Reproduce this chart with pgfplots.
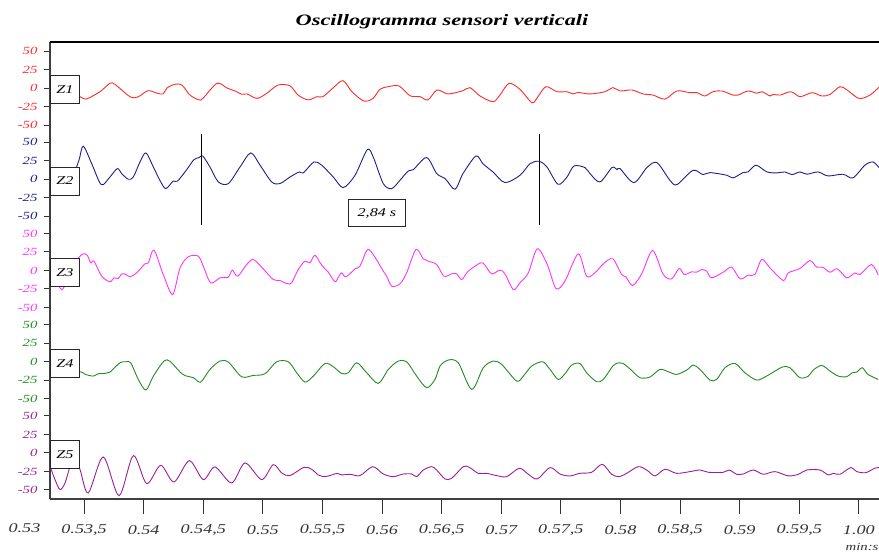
\documentclass[border=0pt]{standalone}
\usepackage{fontspec}
\setmainfont{Liberation Serif}
\usepackage{graphicx}
\usepackage{pgfplots}
\usepackage{pgfplotstable}
\pgfplotsset{compat=1.18}
\definecolor{zA}{HTML}{FF2A2A}
\definecolor{zB}{HTML}{1E1E8C}
\definecolor{zC}{HTML}{FF33FF}
\definecolor{zD}{HTML}{228B22}
\definecolor{zE}{HTML}{9A1F9A}
\newcommand{\hs}[1]{\scalebox{1.35}[1]{#1}}
\newcommand{\yl}[2]{\textcolor{#1}{\hs{#2}}}

\pgfplotstableread{
t a
0.214 1
0.340 -5
0.466 -11.7
0.516 -15
0.633 -5
0.717 6.3
0.759 5
0.885 -11.7
0.952 -12
1.036 -3.6
1.112 -7
1.162 -8
1.195 0
1.263 5
1.321 4
1.388 -9.5
1.464 -16
1.497 -14
1.615 6.3
1.699 0
1.766 -4
1.825 -8.5
1.867 -8
1.951 -14
2.034 -7
2.127 4
2.227 3
2.295 -9.5
2.379 -16
2.454 -11.7
2.504 -11.7
2.588 0
2.672 10
2.747 -5
2.848 -17.6
2.924 -14
2.982 -1.8
3.049 1.8
3.142 2.7
3.234 -10.4
3.318 -11.7
3.385 -16
3.461 -2.7
3.553 -8
3.679 -3.6
3.738 0.5
3.822 -10.8
3.931 -18.5
3.989 -9.5
4.065 6.3
4.157 -1.8
4.258 -19.8
4.308 -11.7
4.375 1.8
4.468 -5
4.552 -5
4.602 -8
4.644 -6
4.744 -8
4.870 -5
4.938 0.5
4.996 -4
5.097 -2.7
5.189 -8
5.273 -9.5
5.373 -15
5.474 -4
5.583 -6.3
5.642 -6.3
5.709 -10.8
5.776 -5
5.852 -4
5.944 -9.5
5.986 -9.5
6.070 -4
6.145 -7
6.188 -5
6.255 -10.8
6.280 -8.6
6.339 -9.5
6.431 -5
6.507 -11.7
6.607 -6.3
6.691 -10.8
6.758 -8.6
6.842 1.8
6.901 -2.7
6.985 -13
7.027 -14
7.094 -9.5
7.169 1
}\zone

\pgfplotstableread{
t a
0.231 -5
0.340 -19
0.398 0
0.457 25.7
0.493 44.6
0.564 21
0.628 -3.6
0.661 -7.2
0.717 3
0.779 14.4
0.815 7.7
0.871 0
0.913 3
0.969 23.4
1.019 35.6
1.081 16.6
1.143 -3.6
1.187 -12.6
1.248 -2.3
1.282 -2.7
1.361 13
1.422 26.6
1.466 29.3
1.495 31.5
1.556 16.6
1.626 -3.6
1.710 -5.9
1.808 16.6
1.898 35.6
1.976 19
2.074 -3.6
2.143 -5.9
2.227 3
2.305 9.9
2.339 8.6
2.429 23.4
2.493 19
2.591 3
2.674 -11.3
2.773 5.4
2.876 40
2.926 30
3.010 -5.9
3.081 -12.6
3.150 -1.4
3.220 11.3
3.262 13
3.374 29.3
3.458 7.7
3.528 1
3.612 -13.5
3.679 7.7
3.788 31.5
3.846 21
3.930 9.9
4.031 -4.5
4.157 5.4
4.241 21
4.316 24.3
4.383 16.6
4.476 -6.8
4.551 3
4.610 18
4.702 15.8
4.744 7.7
4.828 -3.6
4.929 15.8
4.971 13
4.996 14.4
5.113 -4.5
5.222 15.8
5.306 22.5
5.415 -1.4
5.474 -7.2
5.608 12
5.692 6.3
5.751 9
5.893 5.4
5.944 1.8
6.028 9
6.070 9.9
6.137 19
6.229 9.9
6.313 8.6
6.380 9.9
6.439 6.3
6.506 9.9
6.564 6.8
6.657 9.9
6.741 4.5
6.867 6.8
6.950 1.8
7.051 19
7.118 23.4
7.169 15.8
}\ztwo

\pgfplotstableread{
t a
0.214 5.9
0.312 -25.7
0.382 0
0.451 17
0.493 22.5
0.527 20.7
0.555 10.4
0.583 12.6
0.648 -7.7
0.717 -15.3
0.751 -9.9
0.787 -10.8
0.815 -4.5
0.843 -4.5
0.885 -8.6
0.941 -3.2
1.011 9
1.039 10.4
1.086 27.5
1.164 -5.4
1.243 -32.4
1.305 3.6
1.374 18.5
1.458 19.4
1.500 5.9
1.562 -16.7
1.640 -9.9
1.710 -9
1.743 0.5
1.789 -7.7
1.864 8.1
1.919 14.9
1.990 4.5
2.087 -12.2
2.143 -13.5
2.200 -17.6
2.241 -16.7
2.297 1.4
2.353 12.6
2.395 10.4
2.437 20.7
2.493 7.2
2.549 -2.3
2.605 -15.3
2.638 -7.7
2.661 -3.2
2.697 -8.6
2.773 2.3
2.815 5.9
2.879 28.4
2.940 18
3.010 -0.9
3.039 -7.7
3.081 -21.2
3.150 -18
3.206 -3.2
3.284 28.4
3.346 15.8
3.388 12.6
3.458 8.1
3.519 -7.7
3.584 -4.5
3.626 -4.5
3.668 -12.2
3.723 -0.9
3.827 10.4
3.863 7.2
3.919 -4.5
3.989 0.5
4.031 -4.5
4.101 -25.7
4.157 -16.7
4.227 -3.2
4.302 29.3
4.386 8.1
4.459 -24.3
4.534 -14.4
4.646 22.5
4.716 -7.7
4.786 -3.2
4.856 9
4.935 15.8
5.010 -5.4
5.046 -8.6
5.102 -20.3
5.178 -4.5
5.270 27
5.359 -5.4
5.429 -11.3
5.493 2.7
5.535 -5.4
5.597 -1.8
5.639 -2.3
5.681 1.4
5.723 -0.9
5.765 -9.9
5.862 -2.3
5.933 4.5
6.003 -11.3
6.072 -6.3
6.128 -5.4
6.185 14.9
6.254 3.6
6.366 -13.5
6.408 -3.2
6.506 2.7
6.590 13.5
6.646 4.5
6.696 4.5
6.758 -2.3
6.819 2.3
6.898 -9.9
6.967 -3.2
7.009 -5.4
7.106 8.1
7.163 -6.3
}\zthree

\pgfplotstableread{
t a
0.214 -5.9
0.466 -13.5
0.508 -17
0.577 -19.4
0.619 -16.2
0.675 -15.8
0.717 -14
0.801 -1.4
0.851 0
0.891 -1.4
0.955 -23.9
1.019 -38.3
1.081 -19.4
1.170 0.9
1.221 0.5
1.327 -17
1.416 -21.6
1.478 -27.5
1.556 -10.4
1.640 0.9
1.710 -0.5
1.822 -20.3
1.919 -18.5
2.018 -16.2
2.116 0
2.213 0
2.284 -14.9
2.353 -27.5
2.423 -19.4
2.521 -2.3
2.591 -6.8
2.661 -15.8
2.717 -14.9
2.787 -1.4
2.871 -14.9
2.968 -29.3
3.052 -10.4
3.136 0.9
3.206 0
3.290 -19.4
3.374 -35.1
3.444 -23.9
3.486 -5.9
3.555 2.3
3.639 -1.4
3.752 -37.4
3.849 -8.1
3.933 0.9
4.003 -3.6
4.129 -26.1
4.185 -19.4
4.255 -5.9
4.347 0
4.409 -10.4
4.478 -23.9
4.534 -16.2
4.591 -4.5
4.660 -2.3
4.716 -14.9
4.800 -27
4.856 -23.9
4.940 -5
4.990 -1.4
5.023 -2.3
5.094 -11.7
5.164 -21.6
5.247 -20.7
5.331 -10.4
5.401 -13.5
5.471 -17.1
5.555 -11.3
5.611 -4.5
5.667 -10.4
5.751 -24.8
5.807 -23.9
5.877 -8.1
5.961 -2.3
6.044 -14.9
6.143 -24.8
6.226 -19.4
6.296 -12.6
6.366 -6.8
6.422 -8.1
6.506 -21.6
6.576 -19.4
6.617 -11.3
6.688 -5
6.758 -12.6
6.827 -19.4
6.898 -20.3
6.944 -14.9
6.982 -14
7.029 -8.1
7.076 -17.1
7.163 -23.9
}\zfour

\pgfplotstableread{
t a
0.214 -18
0.256 -36
0.298 -49.5
0.340 -40.5
0.382 -18
0.415 -5
0.466 -22.5
0.535 -54
0.661 -5.4
0.793 -57.7
0.913 -3.6
1.025 -41.4
1.143 -16.7
1.254 -39.2
1.383 -10.4
1.500 -36
1.598 -18.9
1.738 -40.5
1.850 -13.5
1.990 -36
2.087 -15.8
2.158 -27
2.227 -30.6
2.345 -19.4
2.409 -22
2.465 -29.7
2.521 -32
2.577 -29.7
2.624 -27.5
2.661 -29.7
2.731 -28.8
2.815 -30.6
2.921 -18.5
3.010 -28.4
3.094 -32
3.178 -28.4
3.248 -28.4
3.290 -32
3.346 -23
3.416 -18.5
3.458 -23
3.528 -35.1
3.584 -34.2
3.681 -18.5
3.732 -19.4
3.807 -27.5
3.877 -27.5
3.961 -30.6
4.045 -32
4.151 -20.7
4.227 -28.8
4.302 -35.1
4.409 -19.8
4.492 -28.4
4.576 -31.1
4.660 -27.5
4.758 -26.1
4.847 -15.3
4.926 -28.8
4.990 -32
5.052 -27.5
5.149 -18.5
5.220 -23
5.289 -31
5.373 -22
5.471 -27.5
5.583 -25.2
5.667 -23
5.737 -26.1
5.862 -26.1
5.913 -23
5.975 -28.8
6.030 -28.4
6.114 -23
6.198 -28.8
6.296 -25.2
6.408 -31
6.492 -28.8
6.562 -23
6.673 -23
6.743 -29.7
6.785 -27.5
6.842 -28.8
6.931 -19.8
6.982 -25.2
7.059 -26.6
7.131 -20.7
7.169 -19.8
}\zfive

\begin{document}
\begin{tikzpicture}
\begin{axis}[
  at={(0,0)}, anchor=south west,
  scale only axis, width=829bp, height=457bp,
  xmin=0.214, xmax=7.169, ymin=-555.4, ymax=62.2,
  axis x line=bottom, axis y line=left,
  axis line style={-, line width=1.2bp, color=black!75},
  tick align=outside, major tick length=6bp,
  tick style={line width=1bp, color=black!80},
  xtick={0.5,1,1.5,2,2.5,3,3.5,4,4.5,5,5.5,6,6.5,7},
  xticklabels={\hs{0.53,5},\hs{0.54},\hs{0.54,5},\hs{0.55},\hs{0.55,5},\hs{0.56},\hs{0.56,5},\hs{0.57},\hs{0.57,5},\hs{0.58},\hs{0.58,5},\hs{0.59},\hs{0.59,5},\hs{1.00}},
  xtick style={draw=none},
  xticklabel style={font=\itshape\fontsize{13.5}{15}\selectfont, color=black!80, anchor=center, yshift=-25bp},
  ytick={50,25,0,-25,-50,-73.3,-98.3,-123.3,-148.3,-173.3,-196.6,-221.6,-246.6,-271.6,-296.6,-319.9,-344.9,-369.9,-394.9,-419.9,-443.2,-468.2,-493.2,-518.2,-543.2},
  yticklabels={\yl{zA}{50},\yl{zA}{25},\yl{zA}{0},\yl{zA}{-25},\yl{zA}{-50},
               \yl{zB}{50},\yl{zB}{25},\yl{zB}{0},\yl{zB}{-25},\yl{zB}{-50},
               \yl{zC}{50},\yl{zC}{25},\yl{zC}{0},\yl{zC}{-25},\yl{zC}{-50},
               \yl{zD}{50},\yl{zD}{25},\yl{zD}{0},\yl{zD}{-25},\yl{zD}{-50},
               \yl{zE}{50},\yl{zE}{25},\yl{zE}{0},\yl{zE}{-25},\yl{zE}{-50}},
  yticklabel style={font=\itshape\fontsize{11}{12}\selectfont, xshift=-3bp},
  clip=false,
  every axis plot/.append style={smooth, tension=0.5, line width=0.9bp},
]
\addplot[zA] table[x=t, y expr=\thisrow{a}] {\zone};
\addplot[zB] table[x=t, y expr=\thisrow{a}-123.3] {\ztwo};
\addplot[zC] table[x=t, y expr=\thisrow{a}-246.6] {\zthree};
\addplot[zD] table[x=t, y expr=\thisrow{a}-369.9] {\zfour};
\addplot[zE] table[x=t, y expr=\thisrow{a}-493.2] {\zfive};
\addplot[black, line width=0.8bp, sharp plot] coordinates {(1.481,-62.2) (1.481,-185.1)};
\addplot[black, line width=0.8bp, sharp plot] coordinates {(4.316,-62.2) (4.316,-185.1)};
\draw[line width=1.2bp, black] (rel axis cs:0,1) -- (rel axis cs:1,1);
\pgfplotsinvokeforeach{0.5,1,1.5,2,2.5,3,3.5,4,4.5,5,5.5,6,6.5,7}{
  \draw[line width=1bp, black!80] (axis cs:#1,-555.4) -- ([yshift=-15bp]axis cs:#1,-555.4);
}
\tikzset{zbox/.style={draw=black!85, line width=0.9bp, fill=white, minimum width=29bp, minimum height=28bp, inner sep=0pt, font=\itshape\fontsize{12}{13}\selectfont}}
\node[zbox] at (axis cs:0.340,-2.3) {\hs{Z1}};
\node[zbox] at (axis cs:0.340,-125.6) {\hs{Z2}};
\node[zbox] at (axis cs:0.340,-248.9) {\hs{Z3}};
\node[zbox] at (axis cs:0.340,-372.2) {\hs{Z4}};
\node[zbox] at (axis cs:0.340,-495.5) {\hs{Z5}};
\node[draw=black!85, line width=0.9bp, fill=white, minimum width=57bp, minimum height=27bp, inner sep=0pt, font=\itshape\fontsize{12}{13}\selectfont] at (axis cs:2.957,-168.9) {\hs{2,84 s}};
\end{axis}
\node[font=\itshape\fontsize{13.5}{15}\selectfont, text=black!80] at (-25.5bp,-29bp) {\hs{0.53}};
\node[font=\itshape\fontsize{11}{12}\selectfont, text=black!80] at (812bp,-48bp) {\hs{min:s}};
\node[font=\bfseries\itshape\fontsize{16}{18}\selectfont] at (392bp,477bp) {\scalebox{1.4}[1]{Oscillogramma sensori verticali}};
\pgfresetboundingbox
\path[use as bounding box] (-50bp,-53bp) rectangle (829bp,499bp);
\end{tikzpicture}
\end{document}
